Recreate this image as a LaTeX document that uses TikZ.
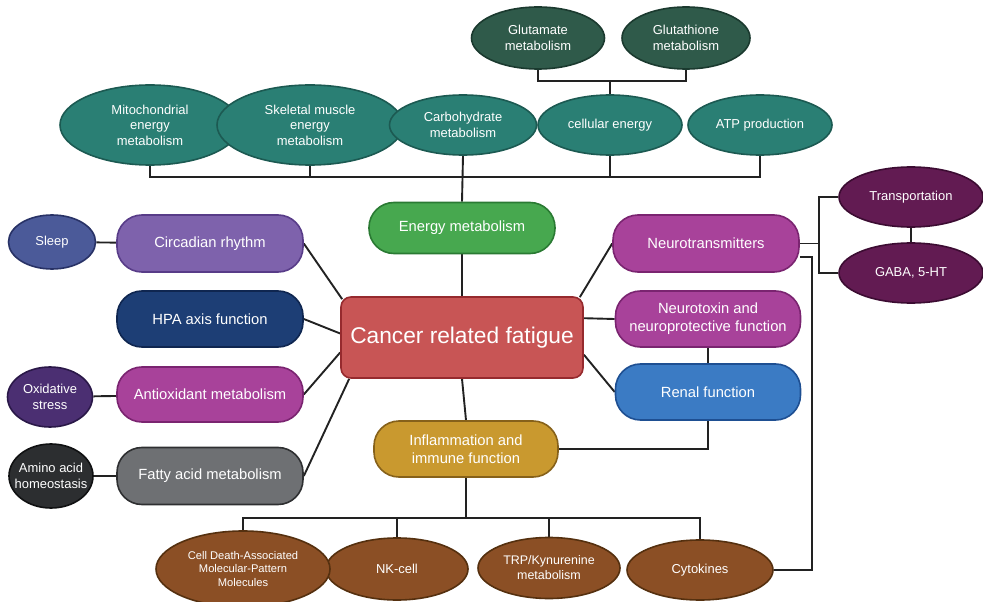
\documentclass[tikz,border=0pt]{standalone}
\usepackage{fontspec}
\setmainfont{Liberation Sans}
\usepackage{xcolor}
\usetikzlibrary{shapes.geometric,backgrounds,calc}

\definecolor{tealE}{HTML}{2A7F74}
\definecolor{tealD}{HTML}{1C5A52}
\definecolor{pineE}{HTML}{2F5A4A}
\definecolor{pineD}{HTML}{1B3A2F}
\definecolor{greenE}{HTML}{47A84F}
\definecolor{greenD}{HTML}{2A7A33}
\definecolor{redE}{HTML}{C85555}
\definecolor{redD}{HTML}{962A2E}
\definecolor{violetE}{HTML}{7E62AC}
\definecolor{violetD}{HTML}{583C88}
\definecolor{navyE}{HTML}{1D3E75}
\definecolor{navyD}{HTML}{0F2650}
\definecolor{magE}{HTML}{A8429A}
\definecolor{magD}{HTML}{7A2470}
\definecolor{greyE}{HTML}{6E7073}
\definecolor{greyD}{HTML}{2E2F31}
\definecolor{sleepE}{HTML}{4B5A99}
\definecolor{sleepD}{HTML}{283266}
\definecolor{plumE}{HTML}{4B2F72}
\definecolor{plumD}{HTML}{2A1848}
\definecolor{coalE}{HTML}{2C2E30}
\definecolor{coalD}{HTML}{101112}
\definecolor{blueE}{HTML}{3B7BC4}
\definecolor{blueD}{HTML}{1E4F92}
\definecolor{wineE}{HTML}{621B52}
\definecolor{wineD}{HTML}{3C0C32}
\definecolor{goldE}{HTML}{C9992F}
\definecolor{goldD}{HTML}{86611A}
\definecolor{brownE}{HTML}{8B4F25}
\definecolor{brownD}{HTML}{55300F}
\definecolor{linkC}{HTML}{222222}

\tikzset{
  paint/.style 2 args={fill=#1, draw=#2},
  pill/.style={rectangle, rounded corners=25bp, minimum width=186bp, minimum height=56bp,
    inner sep=2bp, align=center, text=white, line width=1.6bp,
    font=\fontsize{14.8}{18}\selectfont},
  oval/.style={ellipse, inner sep=0pt, align=center, text=white, line width=1.6bp,
    font=\fontsize{13}{15.5}\selectfont},
  link/.style={draw=linkC, line width=1.9bp}
}

\begin{document}
\begin{tikzpicture}[x=1bp, y=-1bp]
\useasboundingbox (0,0) rectangle (983,602);

% top: energy branch
\node[oval, paint={pineE}{pineD}, minimum width=133bp, minimum height=62bp] (glu) at (538,38) {Glutamate\\metabolism};
\node[oval, paint={pineE}{pineD}, minimum width=128bp, minimum height=62bp] (gth) at (686,38) {Glutathione\\metabolism};
\node[oval, paint={tealE}{tealD}, minimum width=180bp, minimum height=80bp] (mito) at (150,125) {Mitochondrial\\energy\\metabolism};
\node[oval, paint={tealE}{tealD}, minimum width=186bp, minimum height=80bp] (skel) at (310,125) {Skeletal muscle\\energy\\metabolism};
\node[oval, paint={tealE}{tealD}, minimum width=147bp, minimum height=60bp] (carb) at (463,125) {Carbohydrate\\metabolism};
\node[oval, paint={tealE}{tealD}, minimum width=144bp, minimum height=60bp] (cell) at (610,125) {cellular energy};
\node[oval, paint={tealE}{tealD}, minimum width=144bp, minimum height=60bp] (atp) at (760,125) {ATP production};
\node[pill, paint={greenE}{greenD}, minimum height=51bp] (energy) at (462,228) {Energy metabolism};

% centre
\node[rectangle, rounded corners=10bp, paint={redE}{redD}, line width=1.6bp, text=white,
  minimum width=242bp, minimum height=81bp, font=\fontsize{22.8}{26}\selectfont] (crf) at (462,337.5) {Cancer related fatigue};

% left column
\node[pill, paint={violetE}{violetD}, minimum height=57bp] (circ) at (210,243.5) {Circadian rhythm};
\node[pill, paint={navyE}{navyD}] (hpa) at (210,319) {HPA axis function};
\node[pill, paint={magE}{magD}, minimum height=55bp] (anti) at (210,394.5) {Antioxidant metabolism};
\node[pill, paint={greyE}{greyD}, minimum height=57bp] (fatty) at (210,476) {Fatty acid metabolism};
\node[oval, paint={sleepE}{sleepD}, minimum width=87bp, minimum height=54bp] (sleep) at (52,242) {Sleep};
\node[oval, paint={plumE}{plumD}, minimum width=85bp, minimum height=60bp] (oxi) at (50,397) {Oxidative\\stress};
\node[oval, paint={coalE}{coalD}, minimum width=84bp, minimum height=64bp, inner xsep=-10bp] (amino) at (51,476) {Amino acid\\homeostasis};

% right column
\node[pill, paint={magE}{magD}, minimum height=57bp] (neuro) at (706,243.5) {Neurotransmitters};
\node[pill, paint={magE}{magD}, minimum width=185bp] (ntox) at (708,319) {Neurotoxin and\\neuroprotective function};
\node[pill, paint={blueE}{blueD}, minimum width=185bp] (renal) at (708,392) {Renal function};
\node[oval, paint={wineE}{wineD}, minimum width=144bp, minimum height=60bp] (trans) at (911,197) {Transportation};
\node[oval, paint={wineE}{wineD}, minimum width=144bp, minimum height=60bp] (gaba) at (911,273) {GABA, 5-HT};

% bottom: immune branch
\node[pill, paint={goldE}{goldD}, minimum width=184bp] (infl) at (466,449) {Inflammation and\\immune function};
\node[oval, paint={brownE}{brownD}, minimum width=142bp, minimum height=62bp, font=\fontsize{13}{15}\selectfont] (nk) at (397,569) {NK-cell};
\node[oval, paint={brownE}{brownD}, minimum width=174bp, minimum height=76bp, font=\fontsize{11.2}{14}\selectfont] (cdamp) at (243,569) {Cell Death-Associated\\Molecular-Pattern\\Molecules};
\node[oval, paint={brownE}{brownD}, minimum width=142bp, minimum height=61bp, font=\fontsize{12.5}{15}\selectfont] (trp) at (549,568) {TRP/Kynurenine\\metabolism};
\node[oval, paint={brownE}{brownD}, minimum width=146bp, minimum height=60bp] (cyto) at (700,570) {Cytokines};

\begin{scope}[on background layer]
  % energy tree
  \coordinate (topj) at (610,81);
  \draw[link] (glu.south) |- (topj) -| (gth.south);
  \draw[link] (topj) -- (cell.north);
  \coordinate (ebar) at (463,177);
  \draw[link] (mito.south) |- (ebar) -| (atp.south);
  \draw[link] (skel.south) -- (skel.south |- ebar);
  \draw[link] (cell.south) -- (cell.south |- ebar);
  \draw[link] (carb.south) -- (energy.north);
  \draw[link] (energy.south) -- (crf.north);
  % left side
  \draw[link] (sleep) -- (circ);
  \draw[link] (oxi) -- (anti);
  \draw[link] (amino) -- (fatty);
  \draw[link] (circ.east) -- ($(crf.north west)+(2,3)$);
  \draw[link] (hpa.east) -- ($(crf.west)+(0,-4)$);
  \draw[link] (anti.east) -- (crf.187);
  \draw[link] (fatty.east) -- ($(crf.south west)+(9,0)$);
  % right side
  \draw[link] ($(crf.north east)+(-4,1)$) -- (neuro.west);
  \draw[link] (crf.9) -- (ntox.west);
  \draw[link] (crf.-8) -- (renal.west);
  \draw[link] (ntox.south) -- (renal.north);
  \coordinate (nbr) at (819,243.5);
  \draw[link] (neuro.east) -- (nbr);
  \draw[link] (trans.west) -| (nbr) |- (gaba.west);
  \draw[link] (trans.south) -- (gaba.north);
  \coordinate (nright) at (812,570);
  \draw[link] (neuro.-8) -| (nright) -- (cyto.east);
  \draw[link] (renal.south) |- (infl.east);
  % immune tree
  \draw[link] (crf.south) -- (infl.north);
  \coordinate (bbar) at (466,518);
  \draw[link] (infl.south) -- (bbar);
  \draw[link] (cdamp.north) |- (bbar) -| (cyto.north);
  \draw[link] (nk.north) -- (nk.north |- bbar);
  \draw[link] (trp.north) -- (trp.north |- bbar);
\end{scope}
\end{tikzpicture}
\end{document}
